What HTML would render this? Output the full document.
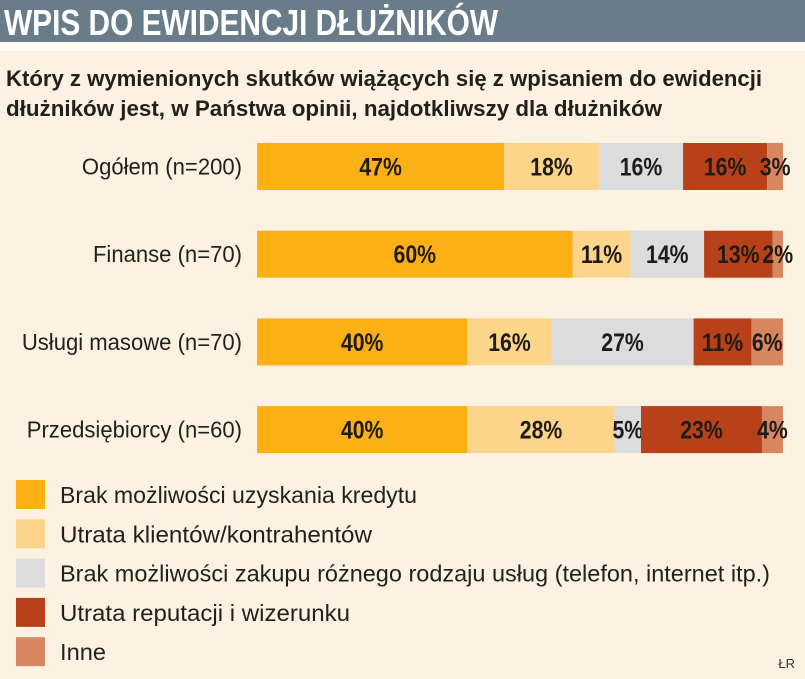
<!DOCTYPE html>
<html><head><meta charset="utf-8"><style>
html,body{margin:0;padding:0;background:#fdf2e1;}
svg{display:block;font-family:"Liberation Sans",sans-serif;}
</style></head><body>
<svg id="chart" width="805" height="679" viewBox="0 0 805 679" xmlns="http://www.w3.org/2000/svg">
<rect x="0" y="0" width="805" height="679" fill="#fdf2e1"/>
<rect x="0" y="0" width="805" height="42" fill="#687c89"/>
<rect x="0" y="42" width="805" height="9" fill="#fffaf2"/>
<text x="4" y="35" font-size="36" font-weight="bold" fill="#ffffff" textLength="494" lengthAdjust="spacingAndGlyphs">WPIS DO EWIDENCJI DŁUŻNIKÓW</text>
<text x="6" y="86" font-size="22" font-weight="bold" fill="#231f1c" textLength="756" lengthAdjust="spacingAndGlyphs">Który z wymienionych skutków wiążących się z wpisaniem do ewidencji</text>
<text x="6" y="116" font-size="22" font-weight="bold" fill="#231f1c" textLength="656" lengthAdjust="spacingAndGlyphs">dłużników jest, w Państwa opinii, najdotkliwszy dla dłużników</text>
<g id="bars"></g>
<g id="legend"></g>
<text x="795" y="668" font-size="13" fill="#333" text-anchor="end">ŁR</text>
</svg>
<script>
const categories = ["Ogółem (n=200)", "Finanse (n=70)", "Usługi masowe (n=70)", "Przedsiębiorcy (n=60)"];
const seriesNames = ["Brak możliwości uzyskania kredytu", "Utrata klientów/kontrahentów", "Brak możliwości zakupu różnego rodzaju usług (telefon, internet itp.)", "Utrata reputacji i wizerunku", "Inne"];
const kredyt = [47, 60, 40, 40];
const klienci = [18, 11, 16, 28];
const uslugi = [16, 14, 27, 5];
const reputacja = [16, 13, 11, 23];
const inne = [3, 2, 6, 4];
const series = [kredyt, klienci, uslugi, reputacja, inne];
const colors = ["#fbb116", "#fdd58a", "#dcdcdc", "#b8411a", "#d88660"];
const NS = "http://www.w3.org/2000/svg";
const x0 = 257, xw = 526;
function xScale(v){ return x0 + v / 100 * xw; }
const rowTop = 143, rowStep = 87.7, barH = 47;
function yScale(i){ return rowTop + i * rowStep; }
const bars = document.getElementById("bars");
categories.forEach((c, i) => {
  const y = yScale(i);
  const lab = document.createElementNS(NS, "text");
  lab.setAttribute("x", 242); lab.setAttribute("y", y + barH/2 + 8);
  lab.setAttribute("text-anchor", "end"); lab.setAttribute("font-size", "23"); lab.setAttribute("fill", "#231f1c");
  lab.setAttribute("transform", `translate(242 0) scale(0.96 1) translate(-242 0)`);
  lab.textContent = c;
  
  
  bars.appendChild(lab);
  let cum = 0;
  series.forEach((s, k) => {
    const v = s[i];
    const r = document.createElementNS(NS, "rect");
    r.setAttribute("x", xScale(cum)); r.setAttribute("y", y);
    r.setAttribute("width", xScale(cum + v) - xScale(cum)); r.setAttribute("height", barH);
    r.setAttribute("fill", colors[k]);
    
    
    bars.appendChild(r);
    const cx = (xScale(cum) + xScale(cum + v)) / 2;
    const t = document.createElementNS(NS, "text");
    t.setAttribute("x", cx); t.setAttribute("y", y + barH/2 + 9);
    t.setAttribute("text-anchor", "middle"); t.setAttribute("font-size", "25"); t.setAttribute("font-weight", "bold");
    t.setAttribute("fill", "#1e1b19");
    t.setAttribute("transform", `translate(${cx} 0) scale(0.85 1) translate(${-cx} 0)`);
    t.textContent = v + "%";
    
    
    bars.appendChild(t);
    cum += v;
  });
});
const legend = document.getElementById("legend");
const legendLens = [357, 312, 710, 290, 46];
seriesNames.forEach((n, k) => {
  const y = 480 + k * 39.3;
  const r = document.createElementNS(NS, "rect");
  r.setAttribute("x", 16); r.setAttribute("y", y); r.setAttribute("width", 29); r.setAttribute("height", 29);
  r.setAttribute("fill", colors[k]);
  
  
  legend.appendChild(r);
  const t = document.createElementNS(NS, "text");
  t.setAttribute("x", 60); t.setAttribute("y", y + 23);
  t.setAttribute("font-size", "23"); t.setAttribute("fill", "#231f1c");
  t.setAttribute("textLength", legendLens[k]); t.setAttribute("lengthAdjust", "spacingAndGlyphs");
  t.textContent = n;
  
  
  legend.appendChild(t);
});
</script>
</body></html>
